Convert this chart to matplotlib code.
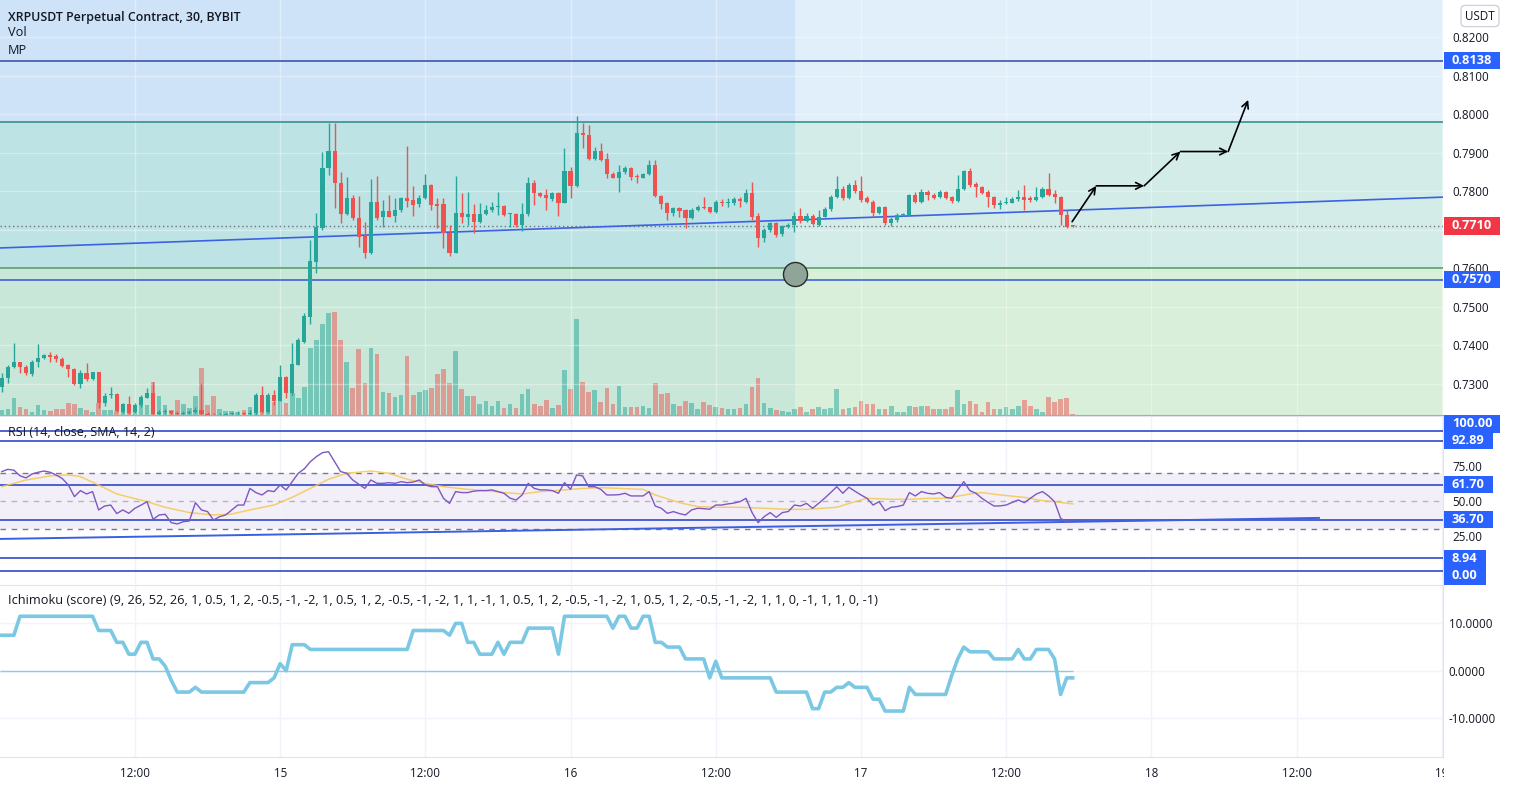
import numpy as np
import matplotlib.pyplot as plt
import matplotlib as mpl
from matplotlib.patches import Rectangle
from matplotlib.transforms import blended_transform_factory, offset_copy

mpl.rcParams['font.family'] = ['Open Sans', 'DejaVu Sans']
mpl.rcParams['axes.unicode_minus'] = False

W, H = 1513, 786
TXT = '#131722'
UP, DOWN = '#26a69a', '#ef5350'
TAG_BLUE, TAG_RED = '#2962ff', '#f23645'

# 30 minute bars, counted from the 14th 00:00
first_bar = 2

open_ = np.array([
    .7293, .7315, .7343, .7356, .7345, .7326, .7356, .7367, .7375, .7373,
    .7366, .7349, .7338, .7300, .7328, .7312, .7331, .7252, .7272, .7274,
    .7228, .7248, .7228, .7246, .7265, .7276, .7222, .7227, .7230, .7224,
    .7221, .7226, .7228, .7233, .7221, .7219, .7215, .7219, .7222, .7224,
    .7225, .7221, .7225, .7272, .7228, .7272, .7257, .7317, .7276, .7349,
    .7410, .7475, .7617, .7704, .7859, .7904, .7821, .7740, .7782, .7730,
    .7684, .7639, .7771, .7734, .7749, .7736, .7751, .7782, .7777, .7766,
    .7782, .7816, .7766, .7766, .7693, .7641, .7743, .7732, .7740, .7721,
    .7740, .7751, .7760, .7762, .7741, .7740, .7712, .7740, .7822, .7796,
    .7790, .7779, .7796, .7770, .7853, .7814, .7952, .7946, .7884, .7904,
    .7884, .7846, .7835, .7849, .7861, .7840, .7835, .7845, .7868, .7788,
    .7769, .7743, .7756, .7751, .7730, .7751, .7760, .7758, .7747, .7773,
    .7770, .7770, .7779, .7773, .7796, .7736, .7680, .7700, .7717, .7689,
    .7708, .7712, .7737, .7724, .7737, .7712, .7734, .7753, .7786, .7807,
    .7782, .7815, .7801, .7782, .7773, .7744, .7758, .7718, .7725, .7738,
    .7738, .7790, .7773, .7799, .7790, .7784, .7799, .7784, .7776, .7805,
    .7853, .7819, .7810, .7799, .7784, .7764, .7770, .7770, .7779, .7784,
    .7782, .7777, .7784, .7805, .7793, .7784, .7738, .7712])
close = np.array([
    .7315, .7345, .7356, .7345, .7328, .7356, .7367, .7375, .7371, .7364,
    .7348, .7338, .7300, .7328, .7312, .7331, .7252, .7270, .7275, .7231,
    .7248, .7224, .7246, .7267, .7276, .7222, .7227, .7230, .7224, .7221,
    .7226, .7228, .7233, .7221, .7219, .7215, .7219, .7222, .7224, .7225,
    .7221, .7226, .7272, .7228, .7272, .7257, .7317, .7276, .7352, .7413,
    .7476, .7619, .7708, .7859, .7904, .7821, .7740, .7782, .7730, .7682,
    .7639, .7771, .7730, .7749, .7734, .7751, .7782, .7776, .7764, .7782,
    .7816, .7764, .7763, .7691, .7639, .7743, .7732, .7740, .7721, .7740,
    .7751, .7760, .7762, .7738, .7743, .7712, .7740, .7822, .7795, .7788,
    .7782, .7795, .7770, .7853, .7814, .7952, .7946, .7884, .7904, .7881,
    .7846, .7835, .7849, .7861, .7838, .7838, .7845, .7868, .7788, .7766,
    .7743, .7756, .7750, .7730, .7751, .7760, .7756, .7747, .7773, .7769,
    .7773, .7779, .7776, .7796, .7734, .7680, .7700, .7717, .7686, .7710,
    .7712, .7737, .7723, .7737, .7715, .7734, .7753, .7786, .7807, .7782,
    .7815, .7801, .7777, .7773, .7744, .7758, .7718, .7727, .7738, .7740,
    .7790, .7773, .7799, .7790, .7782, .7799, .7782, .7776, .7805, .7853,
    .7816, .7810, .7796, .7784, .7764, .7770, .7773, .7781, .7784, .7777,
    .7777, .7784, .7805, .7790, .7784, .7738, .7708, .7710])
high = np.array([
    .7328, .7349, .7406, .7358, .7349, .7362, .7403, .7377, .7382, .7377,
    .7371, .7352, .7341, .7336, .7354, .7332, .7332, .7276, .7293, .7276,
    .7252, .7269, .7250, .7272, .7289, .7306, .7232, .7236, .7233, .7229,
    .7231, .7232, .7240, .7303, .7228, .7226, .7224, .7226, .7228, .7229,
    .7228, .7232, .7276, .7295, .7276, .7285, .7349, .7320, .7406, .7419,
    .7483, .7674, .7743, .7903, .7976, .7976, .7851, .7838, .7790, .7788,
    .7721, .7831, .7840, .7777, .7790, .7782, .7786, .7917, .7814, .7790,
    .7844, .7819, .7782, .7782, .7712, .7840, .7796, .7799, .7766, .7770,
    .7764, .7773, .7799, .7764, .7744, .7743, .7769, .7838, .7829, .7799,
    .7807, .7799, .7799, .7911, .7864, .7995, .7976, .7972, .7916, .7924,
    .7898, .7851, .7868, .7866, .7864, .7846, .7848, .7881, .7881, .7790,
    .7773, .7760, .7760, .7753, .7756, .7764, .7786, .7760, .7777, .7779,
    .7782, .7784, .7784, .7807, .7825, .7743, .7704, .7721, .7721, .7712,
    .7717, .7747, .7756, .7743, .7741, .7751, .7760, .7790, .7840, .7814,
    .7821, .7829, .7840, .7788, .7777, .7762, .7762, .7732, .7743, .7744,
    .7793, .7799, .7805, .7803, .7796, .7803, .7801, .7788, .7842, .7855,
    .7859, .7825, .7814, .7803, .7788, .7777, .7786, .7784, .7803, .7816,
    .7788, .7812, .7810, .7848, .7803, .7788, .7751, .7713])
low = np.array([
    .7280, .7302, .7341, .7328, .7324, .7322, .7345, .7364, .7358, .7356,
    .7345, .7319, .7298, .7289, .7309, .7311, .7239, .7243, .7265, .7228,
    .7226, .7222, .7224, .7241, .7263, .7220, .7218, .7222, .7220, .7216,
    .7218, .7222, .7224, .7217, .7212, .7210, .7211, .7215, .7218, .7220,
    .7217, .7218, .7220, .7226, .7225, .7246, .7255, .7263, .7272, .7349,
    .7406, .7457, .7587, .7700, .7842, .7756, .7717, .7738, .7725, .7655,
    .7626, .7637, .7725, .7708, .7732, .7721, .7747, .7760, .7736, .7760,
    .7779, .7751, .7704, .7652, .7632, .7639, .7717, .7712, .7693, .7717,
    .7738, .7747, .7738, .7736, .7708, .7708, .7698, .7736, .7764, .7784,
    .7751, .7776, .7736, .7769, .7782, .7810, .7911, .7881, .7881, .7879,
    .7834, .7834, .7799, .7846, .7829, .7821, .7834, .7842, .7784, .7753,
    .7725, .7736, .7734, .7704, .7727, .7750, .7753, .7743, .7744, .7762,
    .7760, .7764, .7760, .7770, .7725, .7656, .7669, .7695, .7682, .7684,
    .7704, .7695, .7717, .7721, .7712, .7710, .7732, .7750, .7782, .7777,
    .7779, .7796, .7773, .7769, .7734, .7741, .7712, .7710, .7721, .7736,
    .7736, .7769, .7770, .7777, .7779, .7782, .7779, .7770, .7773, .7803,
    .7812, .7786, .7793, .7760, .7756, .7753, .7767, .7769, .7776, .7751,
    .7773, .7776, .7782, .7788, .7769, .7712, .7704, .7708])
volume = np.array([
    15, 18, 50, 25, 18, 10, 30, 15, 13, 19,
    19, 35, 32, 20, 15, 10, 37, 15, 15, 12,
    10, 20, 20, 29, 30, 100, 57, 30, 15, 45,
    33, 20, 57, 142, 30, 57, 18, 12, 12, 10,
    15, 25, 60, 55, 58, 38, 65, 35, 65, 50,
    85, 200, 225, 273, 307, 310, 225, 158, 80, 198,
    95, 200, 183, 68, 65, 53, 60, 177, 60, 70,
    75, 82, 123, 137, 95, 192, 77, 57, 57, 33,
    43, 27, 42, 22, 33, 22, 63, 77, 33, 27,
    45, 22, 30, 135, 77, 287, 98, 68, 75, 40,
    82, 33, 87, 25, 25, 25, 27, 22, 95, 63,
    67, 33, 28, 43, 37, 17, 39, 30, 25, 20,
    17, 17, 20, 33, 85, 112, 35, 22, 15, 12,
    8, 17, 23, 9, 18, 23, 17, 22, 78, 18,
    22, 25, 42, 33, 32, 18, 18, 27, 10, 8,
    27, 25, 27, 27, 17, 17, 17, 25, 75, 33,
    43, 33, 9, 38, 18, 18, 23, 18, 28, 45,
    27, 18, 9, 55, 39, 47, 50, 3])
rsi = np.array([
    71, 72.6, 72, 68, 66.5, 69.3, 70.5, 71.4, 70.5, 68.5,
    66, 61.4, 53.1, 57.4, 55, 56.7, 43.6, 46.4, 47.1, 41,
    43.6, 41.2, 44.8, 47, 49.5, 36.9, 40, 40.5, 34.5, 33.6,
    35.2, 35.7, 48.8, 43.6, 42.4, 36.4, 38.8, 40, 43.6, 47.1,
    47.1, 59, 56, 54.3, 57.4, 56.7, 61.4, 57.9, 63.8, 69.8,
    73, 78.1, 81.7, 84.5, 85.2, 78.1, 71, 69.8, 65, 62,
    59, 65, 62.6, 62.6, 63.1, 62.6, 63.8, 63.1, 63.5, 65,
    61.4, 60.2, 60.2, 51.9, 48.3, 56.7, 56, 56, 57, 57.4,
    57.4, 57.9, 56.7, 55.5, 52, 50.7, 54.3, 62.6, 59, 57.9,
    57.9, 57.4, 55.5, 63.1, 58.3, 68.6, 67.9, 60.2, 60.2, 58.3,
    54.3, 54.3, 54.5, 55.5, 53.6, 53.6, 53.6, 56.7, 46.4, 44.8,
    41.2, 42.4, 41, 40, 43.6, 44.8, 44.5, 44.1, 47.1, 47.1,
    47.9, 48.5, 49.5, 51.9, 41.7, 34.5, 38.8, 41.7, 38.3, 41.7,
    42.5, 47.1, 46.4, 48.3, 44.8, 48.3, 52, 56, 60.2, 55.5,
    59.8, 57, 54.3, 51.9, 47.1, 49.5, 43.1, 45.5, 46, 47.1,
    56, 53.6, 56.7, 55.5, 55, 56, 52.6, 51.9, 58, 63.8,
    57.4, 55.5, 51.9, 49, 46.4, 46.5, 47.1, 49, 50.7, 48.8,
    51.9, 55, 56.7, 53.6, 49.5, 37.6, 35.2, 35])
rsi_ma_bars = [2, 6, 10, 13, 15, 18, 21, 26, 29, 33, 37, 40, 43, 47, 50, 53,
               56, 59, 63, 66, 69, 72, 75, 79, 82, 85, 88, 91, 95, 98, 101,
               104, 108, 110, 114, 117, 120, 124, 128, 132, 135, 140, 143,
               145, 149, 152, 155, 158, 162, 164, 167, 171, 174, 176, 179]
rsi_ma = [60.2, 65, 67.9, 68.6, 67.4, 61.4, 55, 49.5, 45.5, 41.7, 40, 40.7,
          43.6, 47.1, 52.6, 59, 65.5, 69.8, 71.4, 69.8, 65.5, 62.6, 60.2,
          58.3, 57.4, 56, 55, 56.7, 57.9, 59, 59.5, 59, 58.3, 54.3, 48.8, 46,
          45.5, 45.5, 44.8, 44, 44, 45.5, 49.5, 51.9, 51.2, 51.2, 51.9, 51.9,
          55, 56, 54.3, 52.6, 50.2, 49.5, 47.9]
ichimoku = np.array([
    7.5, 7.5, 7.5, 11.5, 11.5, 11.5, 11.5, 11.5, 11.5, 11.5,
    11.5, 11.5, 11.5, 11.5, 11.5, 11.5, 8.5, 8.5, 8.5, 6,
    6, 3.5, 3.5, 6, 6, 2.5, 2.5, 1, -2, -4.5,
    -4.5, -4.5, -3.5, -4.5, -4.5, -4.5, -4.5, -4.5, -4.5, -4.5,
    -4.5, -2.5, -2.5, -2.5, -2.5, -1.5, 1.5, 0, 5.5, 5.5,
    5.5, 4.5, 4.5, 4.5, 4.5, 4.5, 4.5, 4.5, 4.5, 4.5,
    4.5, 4.5, 4.5, 4.5, 4.5, 4.5, 4.5, 4.5, 8.5, 8.5,
    8.5, 8.5, 8.5, 8.5, 7.5, 10, 10, 6, 6, 3.5,
    3.5, 3.5, 6, 3.5, 6, 6, 6, 9, 9, 9,
    9, 9, 3.5, 11.5, 11.5, 11.5, 11.5, 11.5, 11.5, 11.5,
    11.5, 9, 11.5, 11.5, 9, 9, 11.5, 11.5, 6, 6,
    5, 5, 5, 2.5, 2.5, 2.5, 2.5, -1.5, 2, -1.5,
    -1.5, -1.5, -1.5, -1.5, -1.5, -1.5, -1.5, -1.5, -4.5, -4.5,
    -4.5, -4.5, -4.5, -4.5, -8, -8, -4.5, -4.5, -3.5, -3.5,
    -2.5, -3.5, -3.5, -3.5, -6, -6, -8.5, -8.5, -8.5, -8.5,
    -3.5, -5, -5, -5, -5, -5, -5, -1, 2.5, 5,
    4, 4, 4, 4, 2.5, 2.5, 2.5, 2.5, 4.5, 2.5,
    2.5, 4.5, 4.5, 4.5, 2.5, -5, -1.5, -1.5])

day_ticks = [24, 48, 72, 96, 120, 144, 168, 192, 216, 240]
day_labels = ['12:00', '15', '12:00', '16', '12:00', '17', '12:00', '18', '12:00', '19']
price_ticks = [0.73, 0.74, 0.75, 0.76, 0.77, 0.78, 0.79, 0.80, 0.81, 0.82]
# 0.7700 sits under the last-price tag, so the scale leaves it out
price_labels = ['0.7300', '0.7400', '0.7500', '0.7600', '', '0.7800', '0.7900',
                '0.8000', '0.8100', '0.8200']

# drawings on the price pane
zone_split_bar = 133.1
zone_top, zone_mid = 0.7980, 0.7600
h_levels = [(0.8138, '#3347a6'), (0.7980, '#2a8a80'), (0.7600, '#4f9a62'), (0.7570, '#3357d6')]
last_price = 0.7710
trend_pts = [(48, 0.76785), (192, 0.77581)]
circle_pt = (133.1, 0.7585)
path_bars = [178.9, 182.9, 190.8, 196.8, 204.7, 208.0]
path_prices = [0.7721, 0.7814, 0.7814, 0.7903, 0.7903, 0.8037]

rsi_levels = [100, 92.89, 61.70, 36.70, 8.94, 0.0]
rsi_level_labels = ['100.00', '92.89', '61.70', '36.70', '8.94', '0.00']
rsi_trend_bars = [1.7, 219.7]
rsi_trend_vals = [22.9, 37.9]

x_lo, x_hi = 1.7, 240.2
price_lo, price_hi = 0.72197, 0.82960

bars = np.arange(first_bar, first_bar + len(close))
is_up = close >= open_
colors = np.where(is_up, UP, DOWN)

fig = plt.figure(figsize=(W / 100, H / 100), dpi=100)
fig.patch.set_facecolor('white')


def panel(top, bottom):
    a = fig.add_axes([0, 1 - bottom / H, 1443 / W, (bottom - top) / H])
    a.set_xlim(x_lo, x_hi)
    return a


ax_bg = panel(0, 415)
ax_vol = panel(0, 415)
ax = panel(0, 415)
ax_rsi = panel(416, 584)
ax_ich = panel(585, 757)

# background zones
ax_bg.set_ylim(price_lo, price_hi)
ax_bg.axis('off')
bands = [(zone_top, price_hi), (zone_mid, zone_top), (price_lo, zone_mid)]
for x0, x1, cols in [(x_lo, zone_split_bar, ['#cee3f8', '#bee3e5', '#c8e7d8']),
                     (zone_split_bar, x_hi, ['#e0eff9', '#d3ece8', '#d9efda'])]:
    for (y0, y1), c in zip(bands, cols):
        ax_bg.add_patch(Rectangle((x0, y0), x1 - x0, y1 - y0, fc=c, ec='none'))

# volume
ax_vol.set_ylim(0, 1245)
ax_vol.axis('off')
ax_vol.bar(bars, volume, width=0.76, color=colors, alpha=0.5, lw=0)

# candles
ax.set_facecolor('none')
ax.set_ylim(price_lo, price_hi)
for lvl, c in h_levels:
    ax.axhline(lvl, color=c, lw=1.1, zorder=3)
ax.axhline(last_price, color='#6f747c', lw=1, ls=(0, (1, 2)), zorder=3)
ax.axline(trend_pts[0], trend_pts[1], color='#3c62e4', lw=1.2, zorder=3)
ax.vlines(bars, low, high, colors=colors, lw=1, zorder=4)
body_lo = np.minimum(open_, close)
body_h = np.maximum(np.abs(close - open_), 0.0002)
ax.bar(bars, body_h, bottom=body_lo, width=0.68, color=colors, lw=0, zorder=5)
ax.scatter([circle_pt[0]], [circle_pt[1]], s=300, fc='#8fa597', ec='#2b2b2b', lw=1, zorder=8)
for i in range(len(path_bars) - 1):
    ax.annotate('', xy=(path_bars[i + 1], path_prices[i + 1]),
                xytext=(path_bars[i], path_prices[i]),
                arrowprops=dict(arrowstyle='->', color='black', lw=1.2,
                                shrinkA=0, shrinkB=0, mutation_scale=12), zorder=9)

ax.yaxis.tick_right()
ax.set_yticks(price_ticks)
ax.set_yticklabels(price_labels)
ax.set_xticks(day_ticks)
ax.tick_params(axis='x', length=0, labelbottom=False)
ax.tick_params(axis='y', length=0, pad=7, labelsize=8.4, labelcolor=TXT)
ax.grid(True, color='white', alpha=0.35, lw=1)
for s in ['top', 'left', 'right']:
    ax.spines[s].set_visible(False)
ax.spines['bottom'].set_color('#86bd95')

# RSI pane
ax_rsi.set_ylim(-9.3, 110.7)
ax_rsi.axhspan(30, 70, color='#7e57c2', alpha=0.09, lw=0)
for lvl in [70, 30]:
    ax_rsi.axhline(lvl, color='#787b86', lw=1, ls=(0, (4, 4)))
ax_rsi.axhline(50, color='#787b86', lw=1, ls=(0, (4, 4)), alpha=0.5)
for lvl in rsi_levels:
    ax_rsi.axhline(lvl, color='#3049c7', lw=1.2, zorder=3)
ax_rsi.plot(rsi_ma_bars, rsi_ma, color='#f3c94f', lw=1.1, alpha=0.85, zorder=4)
ax_rsi.plot(bars, rsi, color='#7e57c2', lw=1, zorder=5)
ax_rsi.plot(rsi_trend_bars, rsi_trend_vals, color='#3a5fe0', lw=1.4, zorder=4)
ax_rsi.yaxis.tick_right()
ax_rsi.set_yticks([25, 50, 75])
ax_rsi.set_yticklabels(['25.00', '50.00', '75.00'])
ax_rsi.set_xticks(day_ticks)
ax_rsi.tick_params(axis='x', length=0, labelbottom=False)
ax_rsi.tick_params(axis='y', length=0, pad=7, labelsize=8.4, labelcolor=TXT)
ax_rsi.grid(True, axis='x', color='#f0f3fa', lw=1)
for s in ['left', 'bottom']:
    ax_rsi.spines[s].set_visible(False)
for s in ['top', 'right']:
    ax_rsi.spines[s].set_color('#e0e3eb')

# Ichimoku score pane
ax_ich.set_ylim(-18.2, 18.1)
ax_ich.hlines(0, x_lo, bars[-1], color='#84cfe8', lw=1)
ax_ich.plot(bars, ichimoku, color='#7bc8e4', lw=2.6, solid_joinstyle='round')
ax_ich.yaxis.tick_right()
ax_ich.set_yticks([-10, 0, 10])
ax_ich.set_yticklabels(['-10.0000', '0.0000', '10.0000'])
ax_ich.set_xticks(day_ticks)
ax_ich.set_xticklabels(day_labels)
ax_ich.tick_params(axis='x', length=0, pad=7, labelsize=8.4, labelcolor=TXT)
ax_ich.tick_params(axis='y', length=0, pad=4, labelsize=8.4, labelcolor=TXT)
ax_ich.grid(True, color='#f0f3fa', lw=1)
ax_ich.spines['left'].set_visible(False)
for s in ['top', 'bottom', 'right']:
    ax_ich.spines[s].set_color('#e0e3eb')


def tag(axis, value, label, color, shift_px=0):
    tr = offset_copy(blended_transform_factory(axis.transAxes, axis.transData),
                     fig=fig, x=0, y=-shift_px * 0.72, units='points')
    axis.text(1 + 9 / 1443, value, label, transform=tr, ha='left', va='center',
              fontsize=9.2, color='white', fontweight='bold', clip_on=False, zorder=20,
              bbox=dict(boxstyle='square,pad=0.62', fc=color, ec='none', mutation_aspect=0.26))


tag(ax, 0.8138, '0.8138', TAG_BLUE)
tag(ax, last_price, '0.7710', TAG_RED)
tag(ax, 0.7570, '0.7570', TAG_BLUE)
for lvl, lab, sh in zip(rsi_levels, rsi_level_labels, [-7, 0, 0, 0, 0, 5]):
    tag(ax_rsi, lvl, lab, TAG_BLUE, sh)

# legend texts
fig.text(8 / W, 1 - 17 / H, 'XRPUSDT Perpetual Contract, 30, BYBIT', fontsize=8.9,
         fontweight='semibold', color=TXT, va='center')
fig.text(8 / W, 1 - 33 / H, 'Vol', fontsize=9.2, color=TXT, va='center')
fig.text(8 / W, 1 - 50 / H, 'MP', fontsize=9.2, color=TXT, va='center')
fig.text(8 / W, 1 - 433 / H, 'RSI (14, close, SMA, 14, 2)', fontsize=9, color=TXT, va='center')
fig.text(8 / W, 1 - 600 / H,
         'Ichimoku (score) (9, 26, 52, 26, 1, 0.5, 1, 2, -0.5, -1, -2, 1, 0.5, 1, 2, -0.5, '
         '-1, -2, 1, 1, -1, 1, 0.5, 1, 2, -0.5, -1, -2, 1, 0.5, 1, 2, -0.5, -1, -2, 1, 1, '
         '0, -1, 1, 1, 0, -1)', fontsize=9.2, color=TXT, va='center')
fig.text(1480 / W, 1 - 16 / H, 'USDT', fontsize=8.4, color=TXT, ha='center', va='center',
         bbox=dict(boxstyle='round,pad=0.35', fc='white', ec='#d1d4dc'))

# price scale strip hides the right half of the last date label
fig.add_artist(Rectangle((1444 / W, 0), 1 - 1444 / W, 28 / H, transform=fig.transFigure,
                         fc='white', ec='none', zorder=10))

fig.savefig('out.png', dpi=100)
